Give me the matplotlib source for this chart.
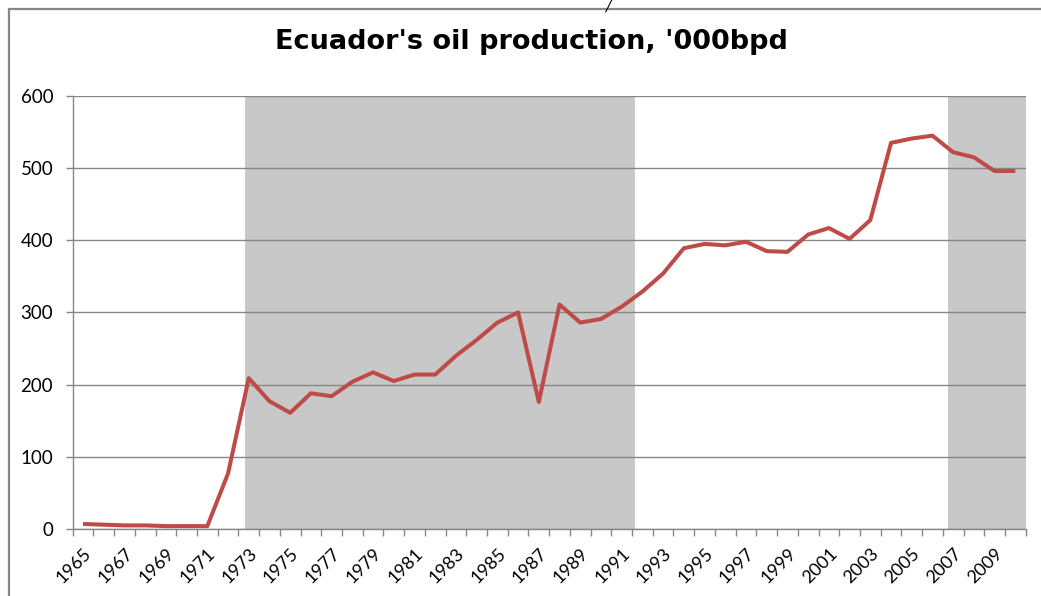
import matplotlib
matplotlib.use('Agg')
import matplotlib.pyplot as plt
from matplotlib.patches import Rectangle
from matplotlib.ticker import MultipleLocator

plt.rcParams['font.family'] = ['Lato', 'DejaVu Sans']

years = list(range(1965, 2011))
production = [7, 6, 5, 5, 4, 4, 4, 77, 209, 177, 161, 188, 184, 204, 217, 205,
              214, 214, 240, 262, 286, 300, 176, 311, 286, 291, 308, 329, 354, 389,
              395, 393, 398, 385, 384, 408, 417, 402, 428, 535, 541, 545, 522, 515,
              496, 496]
shaded_periods = [(1972.8, 1991.65), (2006.75, 2010.5)]
year_labels = years[::2]
y_ticks = [0, 100, 200, 300, 400, 500, 600]

fig = plt.figure(figsize=(10.41, 5.96), dpi=100)
ax = fig.add_axes([0.0698, 0.1124, 0.9155, 0.7266])

# chart-area border like the Excel export
fig.patches.append(Rectangle((0.009, -0.1), 1.2, 1.085, transform=fig.transFigure,
                             fill=False, edgecolor='#868686', linewidth=1.6))
fig.text(0.584, 1.003, "/", ha='center', va='top', fontsize=13, style='italic')

for start, end in shaded_periods:
    ax.axvspan(start, end, color='#c8c8c8', zorder=0, linewidth=0)

ax.plot(years, production, color='#be4b48', linewidth=2.9, zorder=3,
        solid_joinstyle='round', solid_capstyle='butt')

ax.set_xlim(1964.5, 2010.5)
ax.set_ylim(0, 600)
ax.set_yticks(y_ticks)
ax.yaxis.grid(True, color='#878787', linewidth=1.0)
for line in ax.get_ygridlines():
    line.set_zorder(1)

ax.set_xticks(year_labels)
ax.set_xticklabels([str(y) for y in year_labels], rotation=45, ha='right',
                   rotation_mode='anchor', fontsize=13)
ax.xaxis.set_minor_locator(MultipleLocator(1, offset=0.5))
ax.tick_params(axis='x', which='major', length=0, pad=12)
ax.tick_params(axis='x', which='minor', length=5, color='#868686', width=1)
ax.tick_params(axis='y', length=5, color='#868686', width=1, labelsize=13.5, pad=9)

for side in ['top', 'right']:
    ax.spines[side].set_visible(False)
for side in ['left', 'bottom']:
    ax.spines[side].set_color('#868686')
    ax.spines[side].set_linewidth(1.0)

fig.text(0.5105, 0.917, "Ecuador's oil production, '000bpd", ha='center', va='baseline',
         fontsize=19.5, fontweight='bold', family='DejaVu Sans')

fig.savefig('out.png', dpi=100)
